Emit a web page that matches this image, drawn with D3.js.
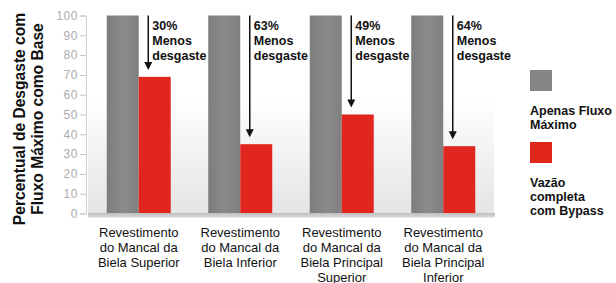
<!DOCTYPE html>
<html><head><meta charset="utf-8">
<script src="https://cdn.jsdelivr.net/npm/d3@7"></script>
<style>html,body{margin:0;padding:0;background:#fff;}svg{display:block;}</style>
</head><body>
<script>
const categories = [
  ["Revestimento","do Mancal da","Biela Superior"],
  ["Revestimento","do Mancal da","Biela Inferior"],
  ["Revestimento","do Mancal da","Biela Principal","Superior"],
  ["Revestimento","do Mancal da","Biela Principal","Inferior"]
];
const seriesNames = ["Apenas Fluxo Máximo","Vazão completa com Bypass"];
const legendLines = [["Apenas Fluxo","Máximo"],["Vazão","completa","com Bypass"]];
const fluxoMaximo = [100,100,100,100];
const vazaoBypass = [69,35,50,34];
const reductionLabels = ["30%","63%","49%","64%"];
const yTicks = [0,10,20,30,40,50,60,70,80,90,100];
const yTitle = ["Percentual de Desgaste com","Fluxo Máximo como Base"];

const W=616,H=283;
const font='"Liberation Sans", Arial, Helvetica, sans-serif';
const svg=d3.select("body").append("svg").attr("width",W).attr("height",H);
const defs=svg.append("defs");
const bg=defs.append("linearGradient").attr("id","bg").attr("x1",0).attr("y1",0).attr("x2",0).attr("y2",1);
bg.append("stop").attr("offset","0%").attr("stop-color","#ffffff");
bg.append("stop").attr("offset","42%").attr("stop-color","#ffffff");
bg.append("stop").attr("offset","100%").attr("stop-color","#e4e4e4");
const gg=defs.append("linearGradient").attr("id","gbar").attr("x1",0).attr("y1",0).attr("x2",1).attr("y2",0);
gg.append("stop").attr("offset","0%").attr("stop-color","#7d7d7d");
gg.append("stop").attr("offset","50%").attr("stop-color","#8a8a8a");
gg.append("stop").attr("offset","100%").attr("stop-color","#808080");
const ab=defs.append("linearGradient").attr("id","axbar").attr("x1",0).attr("y1",0).attr("x2",0).attr("y2",1);
ab.append("stop").attr("offset","0%").attr("stop-color","#bdbdbd");
ab.append("stop").attr("offset","100%").attr("stop-color","#dcdcdc");
const blur=defs.append("filter").attr("id","soft").attr("x","-20%").attr("y","-20%").attr("width","140%").attr("height","140%");
blur.append("feGaussianBlur").attr("stdDeviation",0.6);

const x0=d3.scaleBand().domain(d3.range(categories.length)).range([88,494]);
const x1=d3.scaleBand().domain([0,1]).range([0,64]);
const y=d3.scaleLinear().domain([0,100]).range([213.5,15.5]);

// plot background
svg.append("rect").attr("x",88).attr("y",y(100)).attr("width",406).attr("height",y(0)-y(100)).attr("fill","url(#bg)");

// y axis
const yAxis=d3.axisLeft(y).tickValues(yTicks).tickSize(6).tickPadding(2);
const ga=svg.append("g").attr("transform","translate(86,0)").call(yAxis);
ga.select(".domain").attr("stroke","#cfcfcf");
ga.selectAll(".tick line").attr("stroke","#c4c4c4");
ga.selectAll(".tick text").attr("fill","#ababab").attr("font-family",font).attr("font-size",12).attr("letter-spacing",0.6);

// bars
const groups=svg.selectAll("g.grp").data(categories).join("g").attr("class","grp")
  .attr("transform",(d,i)=>`translate(${x0(i)+x0.bandwidth()/2-32},0)`);
groups.append("rect").attr("x",x1(0)).attr("width",x1.bandwidth())
  .attr("y",(d,i)=>y(fluxoMaximo[i])).attr("height",(d,i)=>y(0)-y(fluxoMaximo[i])).attr("fill","url(#gbar)");
groups.append("rect").attr("x",x1(1)).attr("width",x1.bandwidth())
  .attr("y",(d,i)=>y(vazaoBypass[i])).attr("height",(d,i)=>y(0)-y(vazaoBypass[i])).attr("fill","#e1261f");

// bottom axis bar
svg.append("rect").attr("x",88).attr("y",y(0)-0.5).attr("width",407).attr("height",4.5).attr("fill","url(#axbar)");

// arrows + annotations
groups.each(function(d,i){
  const g=d3.select(this);
  const ax=x1(1)+9.5;
  const tip=y(vazaoBypass[i])-7;
  g.append("line").attr("x1",ax).attr("x2",ax).attr("y1",y(100)).attr("y2",tip-6).attr("stroke","#111").attr("stroke-width",1.5);
  g.append("path").attr("d",`M${ax-4},${tip-8}L${ax+4},${tip-8}L${ax},${tip}Z`).attr("fill","#111");
  const t=g.append("text").attr("x",ax+4).attr("y",30).attr("font-family",font).attr("font-weight","bold").attr("font-size",12.5).attr("fill","#111");
  [reductionLabels[i],"Menos","desgaste"].forEach((s,k)=>t.append("tspan").attr("x",ax+4).attr("dy",k?15:0).text(s));
});

// category labels
categories.forEach((lines,i)=>{
  const t=svg.append("text").attr("x",x0(i)+x0.bandwidth()/2).attr("y",236.5).attr("text-anchor","middle")
    .attr("font-family",font).attr("font-size",13).attr("fill","#111");
  lines.forEach((s,k)=>t.append("tspan").attr("x",x0(i)+x0.bandwidth()/2).attr("dy",k?15:0).text(s));
});

// y title
const yt=svg.append("text").attr("transform","translate(25,119) rotate(-90)").attr("text-anchor","middle")
  .attr("font-family",font).attr("font-weight","bold").attr("font-size",15.6).attr("fill","#111");
yTitle.forEach((s,k)=>yt.append("tspan").attr("x",0).attr("dy",k?18:0).text(s));

// legend
const legColors=["#858585","#e1261f"];
const legY=[70,142];
seriesNames.forEach((n,i)=>{
  svg.append("rect").attr("x",530).attr("y",legY[i]).attr("width",22).attr("height",21).attr("fill",legColors[i]).attr("filter","url(#soft)");
  const t=svg.append("text").attr("x",530).attr("y",legY[i]+44.5).attr("font-family",font).attr("font-weight","bold").attr("font-size",12.5).attr("fill","#111");
  legendLines[i].forEach((s,k)=>t.append("tspan").attr("x",530).attr("dy",k?14:0).text(s));
});
</script>
</body></html>
